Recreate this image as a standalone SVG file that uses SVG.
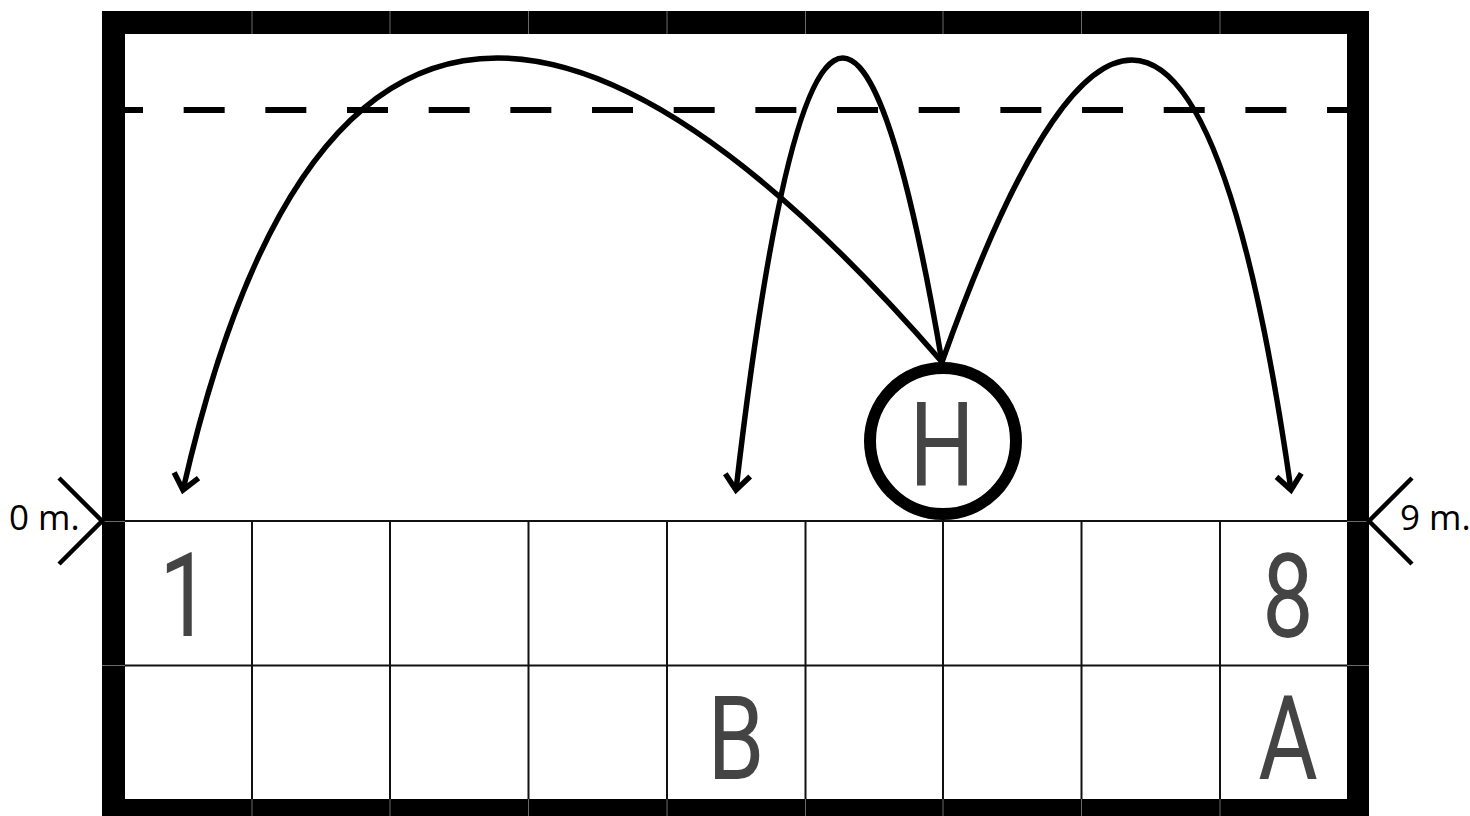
<svg xmlns="http://www.w3.org/2000/svg" width="1470" height="816" viewBox="0 0 1470 816">
<defs>
<style>
.grid{stroke:#111;stroke-width:2;fill:none}
.band{fill:#000}
.seam{stroke:#6a6a6a;stroke-width:1;fill:none}
.dash{stroke:#000;stroke-width:6;stroke-dasharray:41 40.67;fill:none}
.mark{stroke:#000;stroke-width:4.5;fill:none}
.lbl{font-family:"Open Sans","Noto Sans",sans-serif;font-size:35px;fill:#000}
.big{font-family:Roboto,"Liberation Sans",sans-serif;font-size:117px;font-weight:400;fill:#444;text-anchor:middle}
.arc{stroke:#000;stroke-width:5.5;fill:none;marker-end:url(#arr)}
</style>
<marker id="arr" markerUnits="userSpaceOnUse" orient="auto" refX="0" refY="0" markerWidth="40" markerHeight="40" overflow="visible">
<path d="M-15,-12.5 L0,0 L-15,12.5" fill="none" stroke="#000" stroke-width="5.5" stroke-linejoin="miter"/>
</marker>
</defs>
<rect width="1470" height="816" fill="#fff"/>
<g id="court">
<g id="grid">
<line class="grid" x1="102" y1="521" x2="1369" y2="521"/>
<line class="grid" x1="102" y1="665.5" x2="1369" y2="665.5"/>
<line class="grid" x1="252" y1="521" x2="252" y2="800"/>
<line class="grid" x1="390" y1="521" x2="390" y2="800"/>
<line class="grid" x1="528.5" y1="521" x2="528.5" y2="800"/>
<line class="grid" x1="667" y1="521" x2="667" y2="800"/>
<line class="grid" x1="805.5" y1="521" x2="805.5" y2="800"/>
<line class="grid" x1="943" y1="521" x2="943" y2="800"/>
<line class="grid" x1="1081.5" y1="521" x2="1081.5" y2="800"/>
<line class="grid" x1="1220" y1="521" x2="1220" y2="800"/>
</g>
<g id="frame">
<rect class="band" x="102" y="11" width="1267" height="23"/>
<rect class="band" x="102" y="799" width="1267" height="23"/>
<rect class="band" x="102" y="11" width="23" height="811"/>
<rect class="band" x="1347" y="11" width="22" height="811"/>
<path class="seam" d="M252,11V34M390,11V34M528.5,11V34M667,11V34M805.5,11V34M943,11V34M1081.5,11V34M1220,11V34M252,799V816M390,799V816M528.5,799V816M667,799V816M805.5,799V816M943,799V816M1081.5,799V816M1220,799V816M102,521.5H125M102,665.5H125M1347,521.5H1369M1347,665.5H1369"/>
</g>
<line id="dashed-line" class="dash" x1="102" y1="110" x2="1347" y2="110"/>
</g>
<g id="marker-0m">
<polyline class="mark" points="59,478 102,521 59,564"/>
<text class="lbl" x="9" y="530">0 m.</text>
</g>
<g id="marker-9m">
<polyline class="mark" points="1412,478 1369,521 1412,564"/>
<text class="lbl" x="1400" y="530">9 m.</text>
</g>
<g id="cell-labels">
<text class="big" transform="translate(185,636) scale(0.78,1)">1</text>
<text class="big" transform="translate(1288,637) scale(0.78,1)">8</text>
<text class="big" transform="translate(736,779) scale(0.78,1)">B</text>
<text class="big" transform="translate(1288,779) scale(0.78,1)">A</text>
</g>
<g id="connectors">
<path class="arc" d="M942,362 Q364.3,-304.4 183,490"/>
<path class="arc" d="M942,362 Q828.5,-304.4 736,490"/>
<path class="arc" d="M942,362 Q1178.4,-300.4 1291,490"/>
</g>
<g id="node-H">
<circle cx="943" cy="441" r="73" fill="#fff" stroke="#000" stroke-width="12"/>
<text class="big" transform="translate(942,485) scale(0.78,1)">H</text>
</g>
</svg>
